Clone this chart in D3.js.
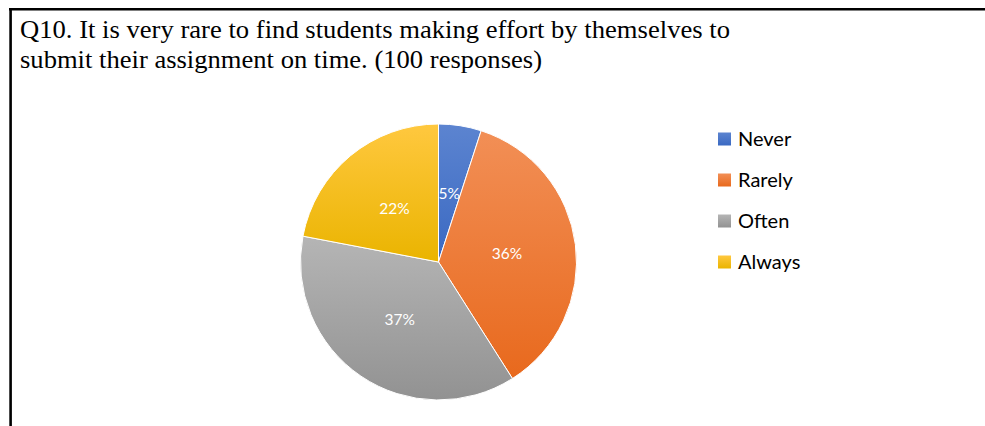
<!DOCTYPE html>
<html><head><meta charset="utf-8">
<script src="https://cdn.jsdelivr.net/npm/d3@7"></script>
<style>body{margin:0;background:#fff;}svg{display:block;}</style>
</head><body>
<svg id="c" width="985" height="426"></svg>
<script>
const titleLines = ["Q10. It is very rare to find students making effort by themselves to",
                    "submit their assignment on time. (100 responses)"];
const titleWidths = [710, 522];
const categories = ["Never", "Rarely", "Often", "Always"];
const values = [5, 36, 37, 22];
const colorsTop = ["#5C84D0", "#F28F56", "#B5B5B5", "#FFC83F"];
const colorsBottom = ["#3A69C2", "#E8691D", "#929292", "#EAB400"];

const svg = d3.select("#c");
svg.append("rect").attr("width",985).attr("height",426).attr("fill","#fff");

// fragment of text above the frame (cut off in the reference)
svg.append("text").attr("x",230).attr("y",-9).attr("font-family","Liberation Serif")
  .attr("font-size",22).attr("fill","#000").text("g");

// frame
svg.append("line").attr("x1",9).attr("x2",985).attr("y1",9.3).attr("y2",9.3)
  .attr("stroke","#000").attr("stroke-width",2.6);
svg.append("line").attr("x1",10.6).attr("x2",10.6).attr("y1",8).attr("y2",426)
  .attr("stroke","#000").attr("stroke-width",2.6);

// title
svg.append("g").selectAll("text").data(titleLines).join("text")
  .attr("x",20).attr("y",(d,i)=>38+i*29.5)
  .attr("font-family","Liberation Serif").attr("font-size",25.5).attr("fill","#000")
  .attr("textLength",(d,i)=>titleWidths[i]).attr("lengthAdjust","spacingAndGlyphs")
  .text(d=>d);

// gradients
const defs = svg.append("defs");
categories.forEach((c,i)=>{
  const g = defs.append("linearGradient").attr("id","g"+i)
    .attr("x1",0).attr("y1",0).attr("x2",0).attr("y2",1);
  g.append("stop").attr("offset","0%").attr("stop-color",colorsTop[i]);
  g.append("stop").attr("offset","100%").attr("stop-color",colorsBottom[i]);
});

const cx = 438.5, cy = 262, R = 138;
const pie = d3.pie().sort(null).value(d=>d)(values);
const arc = d3.arc().innerRadius(0).outerRadius(R);
const gp = svg.append("g").attr("transform",`translate(${cx},${cy})`);
gp.selectAll("path").data(pie).join("path")
  .attr("d",arc).attr("fill",(d,i)=>`url(#g${i})`)
  .attr("stroke","#fff").attr("stroke-width",1).attr("stroke-linejoin","round");
gp.selectAll("text").data(pie).join("text")
  .attr("transform",d=>`translate(${arc.centroid(d)})`)
  .attr("text-anchor","middle").attr("dy","0.36em")
  .attr("font-family","Lato").attr("font-size",15.5).attr("fill","#fff")
  .text(d=>d.data+"%");

// legend
const lg = svg.append("g");
const rows = lg.selectAll("g").data(categories).join("g")
  .attr("transform",(d,i)=>`translate(718,${139+i*41})`);
rows.append("rect").attr("x",0).attr("y",-6.5).attr("width",13).attr("height",13)
  .attr("fill",(d,i)=>`url(#g${i})`);
rows.append("text").attr("x",20).attr("y",0).attr("dy","0.36em")
  .attr("font-family","Lato").attr("font-size",20).attr("fill","#000")
  .text(d=>d);
</script>
</body></html>
